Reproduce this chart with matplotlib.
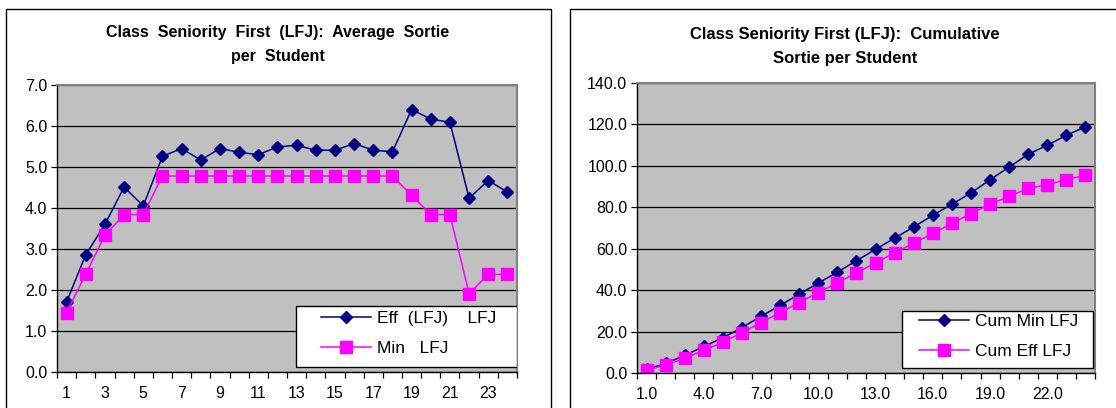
import numpy as np
import matplotlib as mpl
import matplotlib.pyplot as plt
from matplotlib.patches import Rectangle
from matplotlib.ticker import FormatStrFormatter

# global plot style
mpl.rcParams['font.family'] = ['Liberation Sans', 'DejaVu Sans']
mpl.rcParams['lines.linewidth'] = 1.1

# data
periods = list(range(1, 25))
eff_avg = [1.71, 2.86, 3.60, 4.51, 4.05, 5.26, 5.45, 5.17, 5.45, 5.36, 5.30, 5.49,
           5.53, 5.41, 5.41, 5.57, 5.41, 5.37, 6.40, 6.17, 6.09, 4.24, 4.67, 4.39]
min_avg = [1.45, 2.39, 3.33, 3.84, 3.84, 4.78, 4.78, 4.78, 4.78, 4.78, 4.78, 4.78,
           4.78, 4.78, 4.78, 4.78, 4.78, 4.78, 4.31, 3.84, 3.84, 1.91, 2.38, 2.38]
cum_min = [1.7, 4.6, 8.5, 12.8, 17.0, 21.9, 27.4, 32.6, 38.1, 43.4, 48.7, 54.2,
           59.7, 65.1, 70.5, 76.1, 81.5, 86.9, 93.3, 99.4, 105.6, 110.0, 114.7, 118.9]
cum_eff = [1.4, 3.8, 7.1, 11.0, 14.8, 19.5, 24.3, 29.2, 34.0, 38.8, 43.5, 48.3,
           53.2, 58.0, 62.7, 67.4, 72.2, 77.0, 81.4, 85.3, 89.1, 90.9, 93.3, 95.5]

left_xlabels = [1, 3, 5, 7, 9, 11, 13, 15, 17, 19, 21, 23]
right_xlabels = [1, 4, 7, 10, 13, 16, 19, 22]

NAVY = '#000080'
PINK = '#FF00FF'
W, H = 1116, 408


def style_axes(ax, ymax, ystep, xlabels, fmt):
    ax.set_facecolor('#C0C0C0')
    ax.set_xlim(0.5, 24.5)
    ax.set_ylim(0, ymax)
    ax.set_yticks(np.arange(0, ymax + ystep / 2, ystep))
    ax.yaxis.set_major_formatter(FormatStrFormatter('%.1f'))
    ax.yaxis.grid(True, color='black', linewidth=0.9)
    ax.set_axisbelow(True)
    ax.set_xticks(xlabels)
    ax.set_xticklabels([fmt.format(v) for v in xlabels])
    ax.set_xticks(np.arange(0.5, 25, 1), minor=True)
    ax.tick_params(axis='x', which='major', length=0, pad=10, labelsize=11.5)
    ax.tick_params(axis='x', which='minor', length=4, width=0.9, direction='out')
    ax.tick_params(axis='y', length=4, width=0.9, labelsize=11.5, pad=3)
    for s in ['left', 'bottom']:
        ax.spines[s].set_color('black')
        ax.spines[s].set_linewidth(1.0)
    for s in ['top', 'right']:
        ax.spines[s].set_color('#808080')
        ax.spines[s].set_linewidth(1.5)


def boxed_legend(ax, box, anchor):
    # white legend box drawn separately so the entries sit where Excel put them
    ax.add_patch(Rectangle((box[0], box[1]), box[2] - box[0], box[3] - box[1],
                           transform=ax.transAxes, facecolor='white',
                           edgecolor='black', linewidth=1.0, zorder=4))
    leg = ax.legend(loc='center left', bbox_to_anchor=anchor, fontsize=12.5,
                    frameon=False, handlelength=2.9, borderpad=0,
                    labelspacing=0.85, handletextpad=0.3, borderaxespad=0)
    leg.set_zorder(5)
    return leg


fig = plt.figure(figsize=(W / 100, H / 100), dpi=100)

# chart frames
fig.patches.append(Rectangle((6 / W, -0.1), (551 - 6) / W, 1.1 - 9.5 / H,
                             transform=fig.transFigure, fill=False,
                             edgecolor='black', linewidth=1.0))
fig.patches.append(Rectangle((570 / W, -0.1), 0.6, 1.1 - 9.5 / H,
                             transform=fig.transFigure, fill=False,
                             edgecolor='black', linewidth=1.0))

# left chart
ax0 = fig.add_axes([57 / W, 36 / H, 460 / W, 287 / H])
ax0.plot(periods, eff_avg, color=NAVY, marker='D', markersize=6,
         label='Eff  (LFJ)    LFJ')
ax0.plot(periods, min_avg, color=PINK, marker='s', markersize=8.5,
         label='Min   LFJ')
style_axes(ax0, 7.0, 1.0, left_xlabels, '{:d}')
boxed_legend(ax0, (0.52, 0.0174, 1.0, 0.23), (0.574, 0.134))
fig.text(278 / W, 1 - 33 / H, 'Class  Seniority  First  (LFJ):  Average  Sortie',
         ha='center', va='center', fontsize=11.5, fontweight='bold')
fig.text(278 / W, 1 - 57 / H, 'per  Student',
         ha='center', va='center', fontsize=11.5, fontweight='bold')

# right chart
ax1 = fig.add_axes([637 / W, 35 / H, 458 / W, 290 / H])
ax1.plot(periods, cum_min, color=NAVY, marker='D', markersize=6,
         label='Cum Min LFJ')
ax1.plot(periods, cum_eff, color=PINK, marker='s', markersize=8.5,
         label='Cum Eff LFJ')
style_axes(ax1, 140.0, 20.0, right_xlabels, '{:.1f}')
boxed_legend(ax1, (0.5786, 0.0172, 0.9956, 0.2138), (0.616, 0.126))
fig.text(845 / W, 1 - 34 / H, 'Class Seniority First (LFJ):  Cumulative',
         ha='center', va='center', fontsize=12, fontweight='bold')
fig.text(845 / W, 1 - 59 / H, 'Sortie per Student',
         ha='center', va='center', fontsize=12, fontweight='bold')

fig.savefig('out.png', dpi=100)
